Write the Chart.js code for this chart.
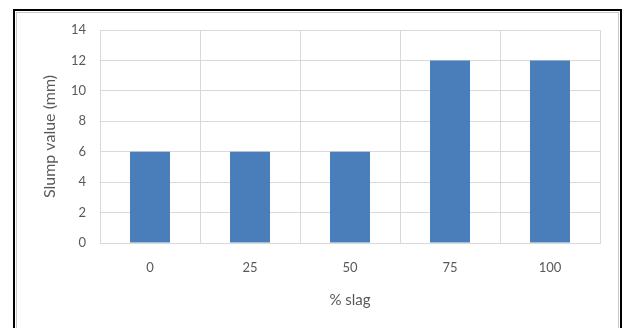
<!DOCTYPE html>
<html>
<head>
<meta charset="utf-8">
<script src="https://cdn.jsdelivr.net/npm/chart.js@4/dist/chart.umd.min.js"></script>
<style>
  html, body { margin: 0; padding: 0; background: #ffffff; }
  #wrap { position: relative; width: 626px; height: 328px; }
</style>
</head>
<body>
<div id="wrap"><canvas id="chart" width="626" height="328"></canvas></div>
<script>
// Slump test results by slag replacement level
const categories = ['0', '25', '50', '75', '100'];
const slumpValues = [6, 6, 6, 12, 12];
const yTicks = [0, 2, 4, 6, 8, 10, 12, 14];

const FONT = 'Lato, "Liberation Sans", sans-serif';
const TEXT = '#595959';
const GRID = '#d9d9d9';

// Frame around the figure: thick black outline with a thin grey inner line
const framePlugin = {
  id: 'frame',
  beforeDraw(chart) {
    const ctx = chart.ctx;
    ctx.save();
    ctx.fillStyle = '#ffffff';
    ctx.fillRect(0, 0, chart.width, chart.height);
    ctx.strokeStyle = '#000000';
    ctx.lineWidth = 2;
    ctx.strokeRect(14, 10, 607, 400);
    ctx.strokeStyle = '#c8c8c8';
    ctx.lineWidth = 1;
    ctx.strokeRect(16.5, 12.5, 602, 400);
    ctx.restore();
  }
};

new Chart(document.getElementById('chart'), {
  type: 'bar',
  data: {
    labels: categories,
    datasets: [{
      data: slumpValues,
      backgroundColor: '#4a7ebb',
      borderWidth: 0,
      barPercentage: 0.4,
      categoryPercentage: 1.0
    }]
  },
  options: {
    responsive: false,
    animation: false,
    devicePixelRatio: 1,
    layout: { padding: { left: 0, right: 26, top: 30, bottom: 0 } },
    plugins: {
      legend: { display: false },
      tooltip: { enabled: false }
    },
    scales: {
      x: {
        offset: true,
        grid: { offset: true, color: GRID, drawTicks: false, lineWidth: 1 },
        border: { color: GRID },
        ticks: { color: TEXT, font: { family: FONT, size: 13 }, padding: 17 },
        title: {
          display: true,
          text: '% slag',
          color: TEXT,
          font: { family: FONT, size: 15 },
          padding: { top: 0, bottom: 19 }
        },
        afterFit(scale) { scale.height = 85; }
      },
      y: {
        min: 0,
        max: 14,
        afterBuildTicks(scale) { scale.ticks = yTicks.map(v => ({ value: v })); },
        grid: { color: GRID, drawTicks: false, lineWidth: 1 },
        border: { color: GRID },
        ticks: { color: TEXT, font: { family: FONT, size: 13 }, padding: 14 },
        title: {
          display: true,
          text: 'Slump value (mm)',
          color: TEXT,
          font: { family: FONT, size: 16 },
          padding: { top: 40, bottom: 0 }
        },
        afterFit(scale) { scale.width = 100; }
      }
    }
  },
  plugins: [framePlugin]
});
</script>
</body>
</html>
